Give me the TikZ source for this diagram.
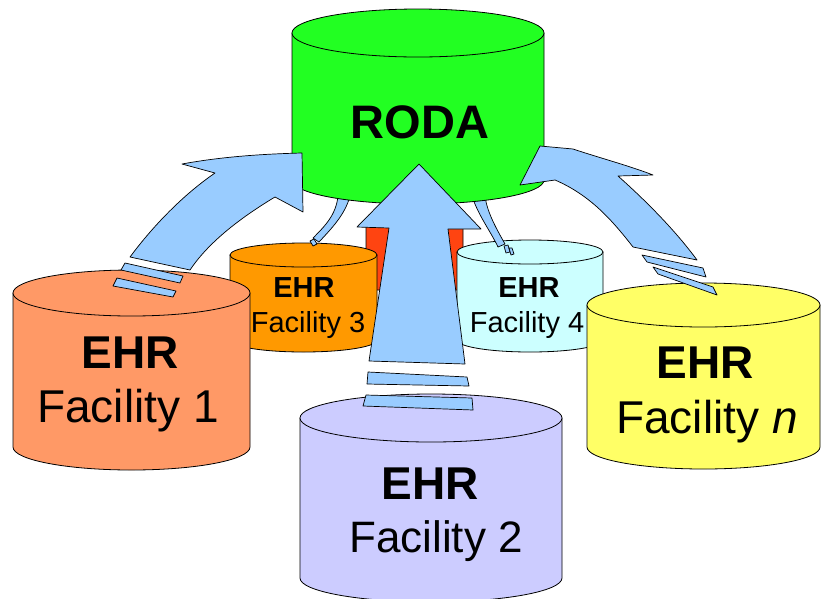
\documentclass[tikz,border=0pt]{standalone}
\usepackage{fontspec}
\setmainfont{Liberation Sans}
\definecolor{rodagreen}{HTML}{22FF22}
\definecolor{facone}{HTML}{FF9966}
\definecolor{factwo}{HTML}{CCCCFF}
\definecolor{facthree}{HTML}{FF9900}
\definecolor{facfour}{HTML}{CCFFFF}
\definecolor{facn}{HTML}{FFFF66}
\definecolor{flowblue}{HTML}{99CCFF}
\definecolor{flowred}{HTML}{FF4411}
\tikzset{
  drumline/.style={draw=black, line width=0.8pt, line join=round},
  flow/.style={draw=black, line width=0.7pt, fill=flowblue, line join=round},
  bigbold/.style={font=\bfseries\fontsize{46}{50}\selectfont, anchor=base},
  bigplain/.style={font=\fontsize{46}{50}\selectfont, anchor=base},
  midplain/.style={font=\fontsize{44}{50}\selectfont, anchor=base},
  smallbold/.style={font=\bfseries\fontsize{29}{32}\selectfont, anchor=base},
  smallplain/.style={font=\fontsize{29}{32}\selectfont, anchor=base},
}
% database drum: left x, right x, top-rim y, bottom-rim y, rim half-height, colour
\newcommand{\ehrdrum}[6]{%
  \pgfmathsetmacro\drumcx{(#1+#2)/2}%
  \pgfmathsetmacro\drumrx{(#2-#1)/2}%
  \draw[drumline, fill=#6] (#1,#3) -- (#1,#4)
    arc[start angle=180, end angle=0, x radius=\drumrx, y radius=#5] -- (#2,#3) -- cycle;
  \draw[drumline, fill=#6] (\drumcx,#3) ellipse[x radius=\drumrx, y radius=#5];
}
\begin{document}
\begin{tikzpicture}[x=1pt, y=1pt, yscale=-1]
\useasboundingbox (0,0) rectangle (822,598);
\fill[white] (0,0) rectangle (822,598);

% red flow, mostly hidden behind the central arrow
\draw[drumline, fill=flowred] (366,290) -- (366,226) -- (363,226) -- (369,215) -- (376,213)
  -- (463,226) -- (463,290) -- cycle;

% back facilities
\ehrdrum{230}{377}{255}{340}{12}{facthree}
\ehrdrum{457}{603}{252}{340}{12}{facfour}
\node[smallbold] (ehr3) at (304,297) {EHR};
\node[smallplain] (fac3) at (308,332) {Facility 3};
\node[smallbold] (ehr4) at (529,297) {EHR};
\node[smallplain] (fac4) at (527,332) {Facility 4};

% thin flows from the back facilities
\draw[flow] (338,196) .. controls (336,215) and (325,226) .. (313,238) -- (319,242)
  .. controls (331,229) and (345,215) .. (350,196) -- cycle;
\draw[flow] (310,241) -- (314,239) -- (317,244) -- (313,246) -- cycle;
\draw[flow] (472,196) .. controls (478,215) and (491,232) .. (498,247) -- (505,244)
  .. controls (496,228) and (487,212) .. (485,196) -- cycle;
\draw[flow] (504,246) -- (508,245) -- (510,252) -- (506,253) -- cycle;
\draw[flow] (509,248) -- (512,248) -- (514,254) -- (511,255) -- cycle;

% central repository
\ehrdrum{292}{544}{33}{180}{24}{rodagreen}
\node[font=\bfseries\fontsize{47}{52}\selectfont, anchor=base] (roda) at (420,138) {RODA};

% front facilities
\ehrdrum{13}{250}{293}{447}{23}{facone}
\node[bigbold] (ehr1) at (130,368) {EHR};
\node[bigplain] (fac1) at (128,422) {Facility 1};

\ehrdrum{587}{820}{305}{447}{22}{facn}
\node[bigbold] (ehrn) at (705,378) {EHR};
\node[bigplain] (facn) at (707,433) {Facility \textit{n}};

\ehrdrum{300}{562}{418}{578}{24}{factwo}
\node[bigbold] (ehr2) at (430,499) {EHR};
\node[midplain] (fac2) at (436,552) {Facility 2};

% flow from Facility 1
\draw[flow] (182,164) .. controls (220,157) and (260,154) .. (302,153) -- (303,212) -- (275,197)
  .. controls (245,215) and (210,240) .. (190,270) -- (130,257)
  .. controls (150,230) and (180,197) .. (215,173) -- cycle;
\draw[flow] (125,263) -- (183,276) -- (180,283) -- (121,270) -- cycle;
\draw[flow] (117,278) -- (176,291) -- (173,297) -- (113,286) -- cycle;

% flow from Facility n
\draw[flow] (520,185) -- (540,146) -- (573,149) .. controls (600,158) and (630,166) .. (653,175)
  -- (618,176) .. controls (645,200) and (675,230) .. (697,260) -- (633,247)
  .. controls (612,220) and (590,195) .. (555,180) -- cycle;
\draw[flow] (642,255) -- (703,268) -- (706,277) -- (647,262) -- cycle;
\draw[flow] (653,267) -- (713,287) -- (717,295) -- (658,274) -- cycle;

% flow from Facility 2
\draw[flow] (419,164) -- (481,229) -- (448,229) -- (465,364) -- (369,361) -- (389,228)
  -- (357,227) -- cycle;
\draw[flow] (368,372) -- (467,377) -- (469,386) -- (367,384) -- cycle;
\draw[flow] (366,395) -- (472,398) -- (473,410) -- (363,406) -- cycle;
\end{tikzpicture}
\end{document}
